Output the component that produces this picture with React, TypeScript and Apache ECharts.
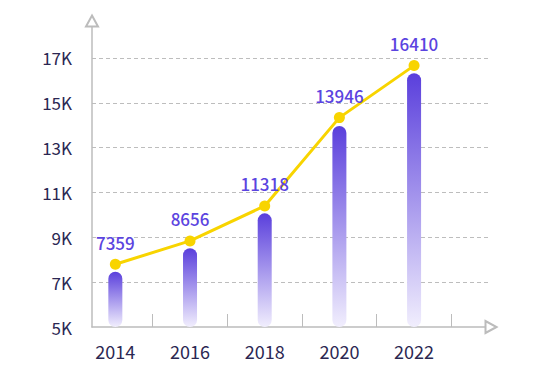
import React, { useEffect, useRef } from "react";
import * as echarts from "echarts";

const years = [2014, 2016, 2018, 2020, 2022];
const barValues = [7470, 8510, 10070, 13970, 16320];
const lineValues = [7800, 8840, 10400, 14340, 16660];
const labelValues = ["7359", "8656", "11318", "13946", "16410"];
const xTickYears = [2015, 2017, 2019, 2021, 2023];

export default function App() {
  const ref = useRef<HTMLDivElement>(null);
  useEffect(() => {
    if (!ref.current) return;
    const chart = echarts.init(ref.current, null, { renderer: "svg" });
    const axisGray = "#bcbcbc";
    const textDark = "#2b2752";
    const purple = "#5b44e0";
    chart.setOption({
      animation: false,
      grid: { left: 92, right: 59, top: 21, bottom: 44, containLabel: false },
      xAxis: {
        type: "value",
        min: 2013.375,
        max: 2024.06,
        axisLine: {
          show: true,
          symbol: ["none", "emptyTriangle"],
          symbolSize: [12, 11],
          lineStyle: { color: axisGray, width: 1.5 },
        },
        axisTick: {
          show: true,
          inside: true,
          length: 13,
          customValues: xTickYears,
          lineStyle: { color: axisGray, width: 1 },
        },
        axisLabel: {
          customValues: years,
          formatter: (v: number) => String(Math.round(v)),
          color: textDark,
          fontSize: 18,
          margin: 15,
          fontFamily: "Noto Sans CJK SC",
        },
        splitLine: { show: false },
      },
      yAxis: {
        type: "value",
        min: 5000,
        max: 18650,
        interval: 2000,
        axisLine: {
          show: true,
          symbol: ["none", "emptyTriangle"],
          symbolSize: [12, 11],
          lineStyle: { color: axisGray, width: 1.5 },
        },
        axisTick: { show: false },
        axisLabel: {
          showMaxLabel: false,
          formatter: (v: number) => v / 1000 + "K",
          color: textDark,
          fontSize: 17,
          margin: 20,
          fontFamily: "Noto Sans CJK SC",
        },
        splitLine: {
          show: true,
          showMaxLine: false,
          showMinLine: false,
          lineStyle: { color: "#bdbdbd", type: [4, 3], width: 1 },
        },
      },
      series: [
        {
          type: "bar",
          data: years.map((y, i) => [y, barValues[i]]),
          barWidth: 14,
          itemStyle: {
            borderRadius: 7,
            color: new echarts.graphic.LinearGradient(0, 0, 0, 1, [
              { offset: 0, color: "#5a3fdc" },
              { offset: 1, color: "#f1eefd" },
            ]),
          },
          z: 2,
        },
        {
          type: "line",
          data: years.map((y, i) => [y, lineValues[i]]),
          symbol: "circle",
          symbolSize: 11,
          lineStyle: { color: "#f8d400", width: 3 },
          itemStyle: { color: "#f8d400" },
          label: {
            show: true,
            position: "top",
            distance: 8,
            formatter: (p: any) => labelValues[p.dataIndex],
            color: purple,
            fontSize: 17,
            fontWeight: 500,
            fontFamily: "Noto Sans CJK SC",
          },
          z: 3,
        },
      ],
    });
    return () => chart.dispose();
  }, []);
  return <div ref={ref} style={{ width: 550, height: 371, position: "absolute", left: 0, top: 0 }} />;
}
